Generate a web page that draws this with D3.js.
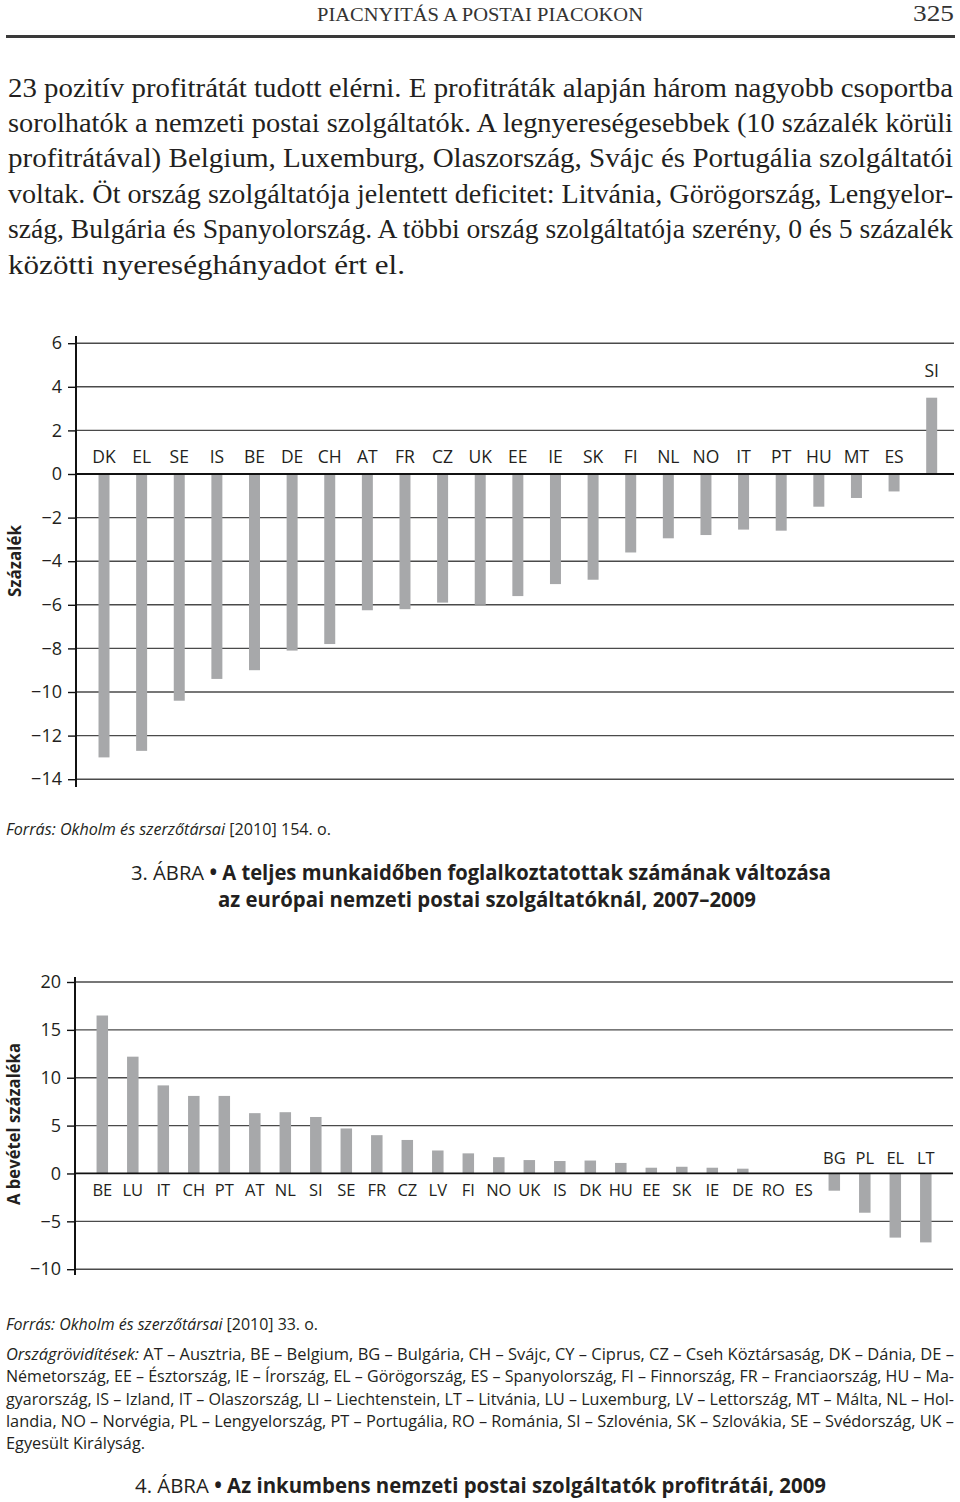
<!DOCTYPE html>
<html>
<head>
<meta charset="utf-8">
<script src="https://cdn.jsdelivr.net/npm/d3@7"></script>
<style>
  html, body { margin: 0; padding: 0; background: #fff; }
  svg { display: block; }
</style>
</head>
<body>
<svg id="page" width="960" height="1502"></svg>
<script>
// ---------- DATA ----------
const cats1 = ["DK","EL","SE","IS","BE","DE","CH","AT","FR","CZ","UK","EE","IE","SK","FI","NL","NO","IT","PT","HU","MT","ES","SI"];
const vals1 = [-13.0,-12.7,-10.4,-9.4,-9.0,-8.1,-7.8,-6.25,-6.2,-5.9,-6.0,-5.6,-5.05,-4.85,-3.6,-2.95,-2.8,-2.55,-2.6,-1.5,-1.1,-0.8,3.5];
const ticks1 = [6,4,2,0,-2,-4,-6,-8,-10,-12,-14];

const cats2 = ["BE","LU","IT","CH","PT","AT","NL","SI","SE","FR","CZ","LV","FI","NO","UK","IS","DK","HU","EE","SK","IE","DE","RO","ES","BG","PL","EL","LT"];
const vals2 = [16.5,12.2,9.2,8.1,8.1,6.3,6.4,5.9,4.7,4.0,3.5,2.4,2.1,1.7,1.4,1.3,1.35,1.1,0.6,0.7,0.6,0.5,0,0,-1.8,-4.1,-6.7,-7.2];
const ticks2 = [20,15,10,5,0,-5,-10];

const headerTitle = "PIACNYITÁS A POSTAI PIACOKON";
const pageNumber = "325";
const paragraph = [
  "23 pozitív profitrátát tudott elérni. E profitráták alapján három nagyobb csoportba",
  "sorolhatók a nemzeti postai szolgáltatók. A legnyereségesebbek (10 százalék körüli",
  "profitrátával) Belgium, Luxemburg, Olaszország, Svájc és Portugália szolgáltatói",
  "voltak. Öt ország szolgáltatója jelentett deficitet: Litvánia, Görögország, Lengyelor-",
  "szág, Bulgária és Spanyolország. A többi ország szolgáltatója szerény, 0 és 5 százalék",
  "közötti nyereséghányadot ért el."
];
const yTitle1 = "Százalék";
const yTitle2 = "A bevétel százaléka";
const source1 = ["Forrás: Okholm és szerzőtársai", " [2010] 154. o."];
const source2 = ["Forrás: Okholm és szerzőtársai", " [2010] 33. o."];
const fig3 = ["3. ÁBRA", " • A teljes munkaidőben foglalkoztatottak számának változása"];
const fig3b = "az európai nemzeti postai szolgáltatóknál, 2007–2009";
const fig4 = ["4. ÁBRA", " • Az inkumbens nemzeti postai szolgáltatók profitrátái, 2009"];
const abbrevLines = [
  ["Országrövidítések:", " AT – Ausztria, BE – Belgium, BG – Bulgária, CH – Svájc, CY – Ciprus, CZ – Cseh Köztársaság, DK – Dánia, DE –"],
  ["", "Németország, EE – Észtország, IE – Írország, EL – Görögország, ES – Spanyolország, FI – Finnország, FR – Franciaország, HU – Ma-"],
  ["", "gyarország, IS – Izland, IT – Olaszország, LI – Liechtenstein, LT – Litvánia, LU – Luxemburg, LV – Lettország, MT – Málta, NL – Hol-"],
  ["", "landia, NO – Norvégia, PL – Lengyelország, PT – Portugália, RO – Románia, SI – Szlovénia, SK – Szlovákia, SE – Svédország, UK –"],
  ["", "Egyesült Királyság."]
];

// ---------- STYLE ----------
const INK = "#231f20";
const BAR = "#a7a8aa";
const GRID = "#4a4a4a";
const SANS = "'Open Sans', 'Noto Sans', sans-serif";
const SERIF = "'Liberation Serif', 'DejaVu Serif', serif";

const svg = d3.select("#page");

// ---------- HEADER ----------
svg.append("text").attr("x", 317).attr("y", 21)
  .attr("textLength", 326).attr("lengthAdjust", "spacingAndGlyphs")
  .style("font-family", SERIF).style("font-size", "19px").attr("fill", "#333")
  .text(headerTitle);
svg.append("text").attr("x", 913).attr("y", 21)
  .attr("textLength", 41).attr("lengthAdjust", "spacingAndGlyphs")
  .style("font-family", SERIF).style("font-size", "24px").attr("fill", "#333")
  .text(pageNumber);
svg.append("line").attr("x1", 6).attr("x2", 955).attr("y1", 36.5).attr("y2", 36.5)
  .attr("stroke", "#3a3a3a").attr("stroke-width", 3);

// ---------- PARAGRAPH ----------
const paraBase = [97, 132, 167, 202.5, 238, 273.5];
const paraWidths = [945, 945, 945, 945, 945, 397];
paragraph.forEach((line, i) => {
  svg.append("text").attr("x", 8).attr("y", paraBase[i])
    .attr("textLength", paraWidths[i]).attr("lengthAdjust", "spacingAndGlyphs")
    .style("font-family", SERIF).style("font-size", "26.5px").attr("fill", INK)
    .text(line);
});

// ---------- CHART helper ----------
function drawChart(opts) {
  const { cats, vals, ticks, yDomain, yRange, xRange, axisX, axisTop, axisBottom,
          gridRight, barPadding, labelSize, labelPos, title, titleX, titleY, titleLen } = opts;
  const g = svg.append("g");
  const y = d3.scaleLinear().domain(yDomain).range(yRange);
  const x = d3.scaleBand().domain(cats).range(xRange)
    .paddingInner(barPadding).paddingOuter(barPadding / 2);

  // gridlines
  g.append("g").selectAll("line").data(ticks.filter(t => t !== 0)).join("line")
    .attr("x1", axisX).attr("x2", gridRight)
    .attr("y1", d => y(d)).attr("y2", d => y(d))
    .attr("stroke", GRID).attr("stroke-width", 1.4);

  // bars
  g.append("g").selectAll("rect").data(cats.map((c, i) => ({ c, v: vals[i] }))).join("rect")
    .attr("x", d => x(d.c)).attr("width", x.bandwidth())
    .attr("y", d => Math.min(y(0), y(d.v)))
    .attr("height", d => Math.abs(y(d.v) - y(0)))
    .attr("fill", BAR);

  // zero line
  g.append("line").attr("x1", axisX).attr("x2", gridRight)
    .attr("y1", y(0)).attr("y2", y(0))
    .attr("stroke", "#111").attr("stroke-width", 1.8);

  // axis with ticks and labels
  const axis = d3.axisLeft(y).tickValues(ticks).tickSize(8).tickPadding(6)
    .tickFormat(d3.format("d"));
  const ag = g.append("g").attr("transform", `translate(${axisX},0)`).call(axis);
  ag.select(".domain").remove();
  ag.selectAll(".tick line").attr("stroke", "#111").attr("stroke-width", 1.4);
  ag.selectAll(".tick text").style("font-family", SANS).style("font-size", "18px")
    .attr("fill", INK);
  g.append("line").attr("x1", axisX).attr("x2", axisX)
    .attr("y1", axisTop).attr("y2", axisBottom)
    .attr("stroke", "#111").attr("stroke-width", 2);

  // category labels
  g.append("g").selectAll("text").data(cats.map((c, i) => ({ c, v: vals[i] }))).join("text")
    .attr("x", d => x(d.c) + x.bandwidth() / 2)
    .attr("y", d => labelPos(d, y))
    .attr("text-anchor", "middle")
    .style("font-family", SANS).style("font-size", labelSize + "px")
    .attr("fill", INK)
    .text(d => d.c);

  // y title
  g.append("text")
    .attr("transform", `translate(${titleX},${titleY}) rotate(-90)`)
    .attr("text-anchor", "middle")
    .attr("textLength", titleLen).attr("lengthAdjust", "spacingAndGlyphs")
    .style("font-family", SANS).style("font-size", "17px").style("font-weight", "bold")
    .attr("fill", INK)
    .text(title);
}

// ---------- CHART 1 ----------
drawChart({
  cats: cats1, vals: vals1, ticks: ticks1,
  yDomain: [-14, 6], yRange: [779.2, 343.2],
  xRange: [85.2, 950.5], axisX: 76, axisTop: 336, axisBottom: 787, gridRight: 954,
  barPadding: 0.708, labelSize: 17.5,
  labelPos: (d, y) => d.v < 0 ? y(0) - 11.5 : y(d.v) - 20.5,
  title: yTitle1, titleX: 21, titleY: 561, titleLen: 72
});

// ---------- CHART 2 ----------
drawChart({
  cats: cats2, vals: vals2, ticks: ticks2,
  yDomain: [-10, 20], yRange: [1269.2, 982.0],
  xRange: [87.05, 941.05], axisX: 75, axisTop: 977, axisBottom: 1275, gridRight: 953,
  barPadding: 0.623, labelSize: 16.5,
  labelPos: (d, y) => d.v < 0 ? y(0) - 9 : y(0) + 22.5,
  title: yTitle2, titleX: 20, titleY: 1124, titleLen: 162
});

// ---------- CAPTIONS ----------
function mixed(x, yPos, parts, styles, len, size, anchor) {
  const t = svg.append("text").attr("x", x).attr("y", yPos)
    .style("font-family", SANS).style("font-size", size + "px").attr("fill", INK);
  if (anchor) t.attr("text-anchor", anchor);
  if (len) t.attr("textLength", len).attr("lengthAdjust", "spacingAndGlyphs");
  parts.forEach((p, i) => {
    if (!p) return;
    const ts = t.append("tspan").text(p);
    const s = styles[i] || {};
    if (s.italic) ts.style("font-style", "italic");
    if (s.bold) ts.style("font-weight", "bold");
  });
  return t;
}

mixed(6, 835, source1, [{ italic: true }, {}], 325, 15.5);
mixed(131, 880, fig3, [{}, { bold: true }], 700, 20.5);
mixed(218, 907, [fig3b], [{ bold: true }], 538, 20.5);

mixed(6, 1330, source2, [{ italic: true }, {}], 312, 15.5);
const abBase = [1360, 1382, 1405, 1427, 1449];
abbrevLines.forEach((parts, i) => {
  const len = i < 4 ? 948 : 139;
  mixed(6, abBase[i], parts, [{ italic: true }, {}], len, 15.5);
});
mixed(135, 1493, fig4, [{}, { bold: true }], 691, 20.5);
</script>
</body>
</html>
